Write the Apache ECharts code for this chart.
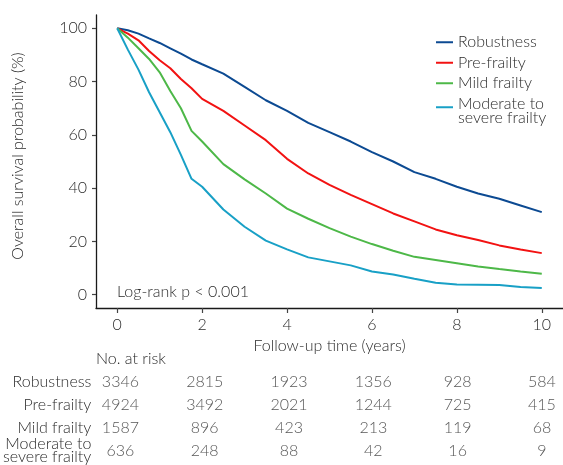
<!DOCTYPE html>
<html>
<head>
<meta charset="utf-8">
<script src="https://cdn.jsdelivr.net/npm/echarts@6/dist/echarts.min.js"></script>
<style>
html,body{margin:0;padding:0;background:#fff;}
#chart{width:563px;height:465px;}
</style>
</head>
<body>
<div id="chart"></div>
<script>
// ---- data ----
var groups = ['Robustness', 'Pre-frailty', 'Mild frailty', 'Moderate to severe frailty'];
var times = [0, 0.25, 0.5, 0.75, 1, 1.25, 1.5, 1.75, 2, 2.5, 3, 3.5, 4, 4.5, 5, 5.5, 6, 6.5, 7, 7.5, 8, 8.5, 9, 9.5, 10];
var robustness = [100, 99.3, 98, 96.2, 94.5, 92.5, 90.5, 88.3, 86.5, 83, 78, 73, 69, 64.5, 61, 57.5, 53.5, 50, 46, 43.5, 40.5, 38, 36, 33.5, 31];
var preFrailty = [100, 98, 95.5, 91.5, 88, 85, 81, 77.5, 73.5, 69, 63.5, 58, 51, 45.5, 41.2, 37.5, 34, 30.5, 27.5, 24.5, 22.3, 20.5, 18.5, 17, 15.6];
var mildFrailty = [100, 96.5, 92.5, 88.5, 83.5, 76.5, 70, 61.5, 57.5, 49, 43.3, 38, 32.3, 28.5, 25, 21.8, 19, 16.5, 14.2, 13, 11.8, 10.6, 9.6, 8.7, 7.9];
var modSevere = [100, 92, 84.5, 76, 68.5, 61, 52.5, 43.5, 40.5, 32, 25.5, 20.3, 17, 14, 12.5, 11, 8.7, 7.6, 6, 4.5, 3.8, 3.7, 3.6, 2.9, 2.5];
var xTicks = [0, 2, 4, 6, 8, 10];
var yTicks = [0, 20, 40, 60, 80, 100];
var riskTimes = [0, 2, 4, 6, 8, 10];
var riskRobustness = [3346, 2815, 1923, 1356, 928, 584];
var riskPreFrailty = [4924, 3492, 2021, 1244, 725, 415];
var riskMild = [1587, 896, 423, 213, 119, 68];
var riskModSevere = [636, 248, 88, 42, 16, 9];
var pText = 'Log-rank p < 0.001';

// ---- styles ----
var colors = ['#0c4a92', '#f21212', '#4db848', '#18a0c6'];
var FONT = 'Lato';
var TXT = '#2b2b2b';
var FS = 16;
var FW = 300;

function pairs(t, v) { return t.map(function (x, i) { return [x, v[i]]; }); }
var curves = [robustness, preFrailty, mildFrailty, modSevere];
var risks = [riskRobustness, riskPreFrailty, riskMild, riskModSevere];

var series = curves.map(function (c, i) {
  return {
    name: groups[i], type: 'line', xAxisIndex: 0, yAxisIndex: 0,
    data: pairs(times, c), showSymbol: false, symbol: 'none',
    lineStyle: { color: colors[i], width: 2 }, itemStyle: { color: colors[i] },
    silent: true, animation: false
  };
});
var riskData = [];
risks.forEach(function (r, gi) {
  r.forEach(function (n, k) { riskData.push({ value: [riskTimes[k], gi], label: { formatter: String(n) } }); });
});
series.push({
  type: 'scatter', xAxisIndex: 1, yAxisIndex: 1, data: riskData,
  symbolSize: 0, silent: true, animation: false,
  label: { show: true, position: 'inside', color: TXT, fontFamily: FONT, fontSize: FS, fontWeight: FW }
});

var chart = echarts.init(document.getElementById('chart'), null, { renderer: 'canvas' });
chart.setOption({
  backgroundColor: '#fff',
  animation: false,
  textStyle: { fontFamily: FONT, color: TXT, fontWeight: FW },
  title: [
    { text: 'No. at risk', left: 96, top: 350, padding: 0,
      textStyle: { fontFamily: FONT, fontSize: FS, fontWeight: FW, color: TXT, lineHeight: 18 } },
    { text: pText, left: 117, top: 283, padding: 0,
      textStyle: { fontFamily: FONT, fontSize: FS, fontWeight: FW, color: TXT, lineHeight: 18 } }
  ],
  legend: {
    data: groups, orient: 'vertical', left: 436, top: 32, padding: 0, itemGap: 0,
    itemWidth: 17, itemHeight: 14, icon: 'path://M0,6.5 L17,6.5 L17,8.5 L0,8.5 Z',
    selectedMode: false,
    formatter: function (n) {
      if (n === groups[3]) return '{a|Moderate to}\n{b|severe frailty}';
      return n;
    },
    textStyle: {
      fontFamily: FONT, fontSize: FS, fontWeight: FW, color: TXT, lineHeight: 20.5, padding: [0, 0, 0, 0],
      rich: {
        a: { fontFamily: FONT, fontSize: FS, fontWeight: FW, color: TXT, lineHeight: 20.5 },
        b: { fontFamily: FONT, fontSize: FS, fontWeight: FW, color: TXT, lineHeight: 7 }
      }
    }
  },
  grid: [
    { left: 96, top: 15, right: -3, bottom: 157, containLabel: false },
    { left: 96, top: 370, right: -3, bottom: 1.7, containLabel: false }
  ],
  xAxis: [
    {
      type: 'value', gridIndex: 0, min: -0.5, max: 10.5,
      name: 'Follow-up time (years)', nameLocation: 'middle', nameGap: 26,
      nameTextStyle: { fontFamily: FONT, fontSize: FS, fontWeight: FW, color: TXT },
      axisLine: { show: true, onZero: false, lineStyle: { color: '#1a1a1a', width: 1.3 } },
      axisTick: { show: true, length: 5, customValues: xTicks, lineStyle: { color: '#444', width: 1.2 } },
      axisLabel: { customValues: xTicks, margin: 9, fontFamily: FONT, fontSize: FS, fontWeight: FW, color: TXT },
      splitLine: { show: false }
    },
    {
      type: 'value', gridIndex: 1, min: -0.5, max: 10.5, show: false
    }
  ],
  yAxis: [
    {
      type: 'value', gridIndex: 0, min: -5, max: 105,
      name: 'Overall survival probability (%)', nameLocation: 'middle', nameGap: 70, nameRotate: 90,
      nameTextStyle: { fontFamily: FONT, fontSize: FS, fontWeight: FW, color: TXT, padding: [0, 0, 0, 11] },
      axisLine: { show: true, onZero: false, lineStyle: { color: '#1a1a1a', width: 1.3 } },
      axisTick: { show: true, length: 4, customValues: yTicks, lineStyle: { color: '#444', width: 1.2 } },
      axisLabel: { customValues: yTicks, margin: 9, fontFamily: FONT, fontSize: FS, fontWeight: FW, color: TXT },
      splitLine: { show: false }
    },
    {
      type: 'category', gridIndex: 1, data: ['Robustness', 'Pre-frailty', 'Mild frailty', 'Moderate to\nsevere frailty'],
      inverse: true,
      axisLine: { show: false }, axisTick: { show: false }, splitLine: { show: false },
      axisLabel: { margin: 8, fontFamily: FONT, fontSize: FS, fontWeight: FW, color: TXT, lineHeight: 13.3, align: 'right' }
    }
  ],
  series: series
});
</script>
</body>
</html>
